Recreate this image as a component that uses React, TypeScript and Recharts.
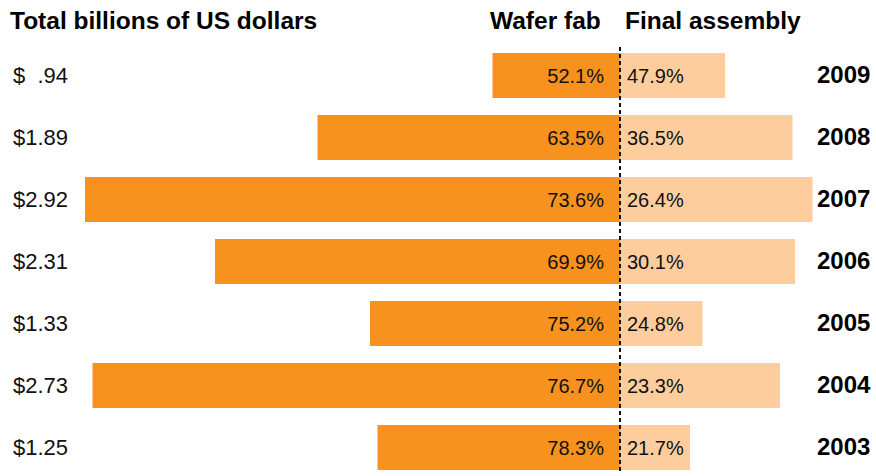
import { BarChart, Bar, XAxis, YAxis, ReferenceLine, LabelList } from 'recharts';

// Rows top to bottom
const years = ['2009', '2008', '2007', '2006', '2005', '2004', '2003'];
const totals = [0.94, 1.89, 2.92, 2.31, 1.33, 2.73, 1.25];
const waferPct = [52.1, 63.5, 73.6, 69.9, 75.2, 76.7, 78.3];
const finalPct = [47.9, 36.5, 26.4, 30.1, 24.8, 23.3, 21.7];
// bar lengths in billions of US dollars
const waferValues = [0.51, 1.21, 2.14, 1.62, 1.0, 2.11, 0.97];
const finalValues = [0.42, 0.69, 0.77, 0.7, 0.33, 0.64, 0.28];

const DARK = '#F7921F';
const LIGHT = '#FDCD9D';
const FONT = '"Liberation Sans", Arial, Helvetica, sans-serif';

const formatTotal = (v: number) =>
  v < 1 ? `$\u00a0\u00a0${v.toFixed(2).slice(1)}` : `$${v.toFixed(2)}`;

const data = years.map((year, i) => ({
  year,
  total: formatTotal(totals[i]),
  wafer: -waferValues[i],
  final: finalValues[i],
  waferLabel: `${waferPct[i].toFixed(1)}%`,
  finalLabel: `${finalPct[i].toFixed(1)}%`,
}));

const WaferLabel = (props: any) => {
  const { x, y, width, height, value } = props;
  const right = Math.max(x, x + width);
  return (
    <text x={right - 16} y={y + height / 2} dy={7} textAnchor="end" fontSize={20} fontFamily={FONT} fill="#111">
      {value}
    </text>
  );
};

const FinalLabel = (props: any) => {
  const { x, y, width, height, value } = props;
  const left = Math.min(x, x + width);
  return (
    <text x={left + 7} y={y + height / 2} dy={7} textAnchor="start" fontSize={20} fontFamily={FONT} fill="#111">
      {value}
    </text>
  );
};

const TotalTick = (props: any) => (
  <text x={13} y={props.y} dy={8} fontSize={22} fontFamily={FONT} fill="#111" style={{ whiteSpace: 'pre' }}>
    {props.payload.value}
  </text>
);

const YearTick = (props: any) => (
  <text x={817} y={props.y} dy={8} fontSize={24} fontWeight="bold" fontFamily={FONT} fill="#000">
    {props.payload.value}
  </text>
);

const CenterLine = (props: any) => (
  <line x1={props.x1} x2={props.x2} y1={props.y1 - 7} y2={props.y2} stroke="#111" strokeWidth={2} strokeDasharray="4 3" />
);

export default function App() {
  return (
    <div style={{ position: 'absolute', left: 0, top: 0, width: 876, height: 476, overflow: 'hidden', background: '#fff' }}>
      <BarChart
        width={876}
        height={478}
        data={data}
        layout="vertical"
        stackOffset="sign"
        barSize={45}
        margin={{ top: 44, right: 0, bottom: 0, left: 0 }}
      >
        <XAxis type="number" hide domain={[-2.16, 0.784]} allowDataOverflow />
        <YAxis yAxisId="left" type="category" dataKey="total" width={80} axisLine={false} tickLine={false} tick={TotalTick} interval={0} />
        <YAxis yAxisId="right" orientation="right" type="category" dataKey="year" width={60} axisLine={false} tickLine={false} tick={YearTick} interval={0} />
        <Bar yAxisId="left" dataKey="wafer" stackId="a" fill={DARK} isAnimationActive={false}>
          <LabelList dataKey="waferLabel" content={WaferLabel} />
        </Bar>
        <Bar yAxisId="left" dataKey="final" stackId="a" fill={LIGHT} isAnimationActive={false}>
          <LabelList dataKey="finalLabel" content={FinalLabel} />
        </Bar>
        <ReferenceLine yAxisId="left" x={0} shape={CenterLine} />
      </BarChart>
      <svg width={876} height={40} style={{ position: 'absolute', left: 0, top: 0 }}>
        <g fontFamily={FONT} fontWeight="bold" fontSize={24.5} fill="#000">
          <text x={10} y={29}>Total billions of US dollars</text>
          <text x={490} y={29}>Wafer fab</text>
          <text x={625} y={29}>Final assembly</text>
        </g>
      </svg>
    </div>
  );
}
